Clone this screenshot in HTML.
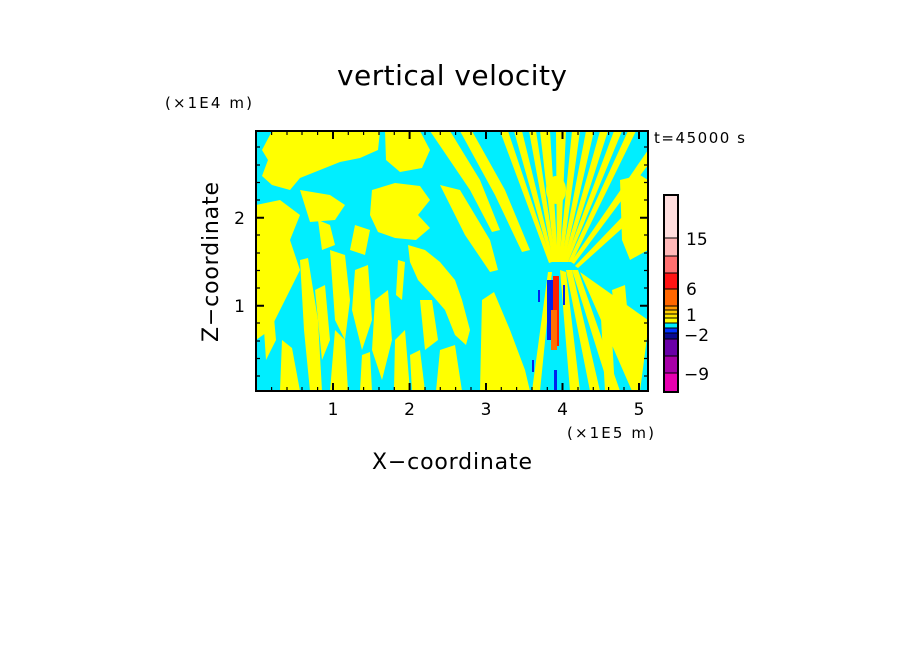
<!DOCTYPE html>
<html><head><meta charset="utf-8"><style>
body{margin:0;background:#fff;width:904px;height:654px;overflow:hidden;font-family:"DejaVu Sans","Liberation Sans",sans-serif}
</style></head><body>
<svg width="904" height="654" xmlns="http://www.w3.org/2000/svg" style="position:absolute;left:0;top:0">
<defs><clipPath id="c"><rect x="256" y="131" width="392" height="260"/></clipPath></defs>
<g clip-path="url(#c)">
<rect x="256" y="131" width="392" height="260" fill="#00eeff"/>
<g fill="#ffff00">
<path d="M272,131 L380,131 L378,150 L360,158 L340,162 L320,170 L300,178 L290,190 L272,185 L262,176 L268,160 L262,150 Z"/>
<path d="M256,205 L280,200 L300,215 L290,240 L300,270 L285,300 L270,330 L256,340 Z"/>
<path d="M300,190 L330,195 L345,205 L335,220 L310,222 Z"/>
<path d="M372,190 L395,183 L420,186 L430,200 L418,215 L430,228 L416,240 L395,238 L378,232 L370,215 Z"/>
<path d="M408,245 L425,250 L440,262 L455,280 L462,300 L470,330 L466,345 L455,335 L445,310 L432,295 L418,280 L410,262 Z"/>
<path d="M385,131 L420,131 L430,150 L422,168 L400,172 L386,160 Z"/>
<path d="M430,131 L450,131 L480,180 L500,230 L492,232 L470,190 Z"/>
<path d="M460,131 L472,131 L505,190 L530,250 L522,252 L495,195 Z"/>
<path d="M440,185 L460,190 L490,240 L498,270 L490,272 L465,235 Z"/>
<path d="M482,300 L494,292 L510,330 L525,370 L530,391 L480,391 Z"/>
<path d="M440,350 L455,345 L462,391 L436,391 Z"/>
<path d="M500,131 L508,131 L552,262 L549,263 Z"/>
<path d="M514,131 L522,131 L554,262 L551,262 Z"/>
<path d="M529,131 L536,131 L556,262 L553,262 Z"/>
<path d="M540,131 L550,131 L558,262 L555,262 Z"/>
<path d="M556,131 L566,131 L560,262 L557,262 Z"/>
<path d="M572,131 L580,131 L562,262 L559,262 Z"/>
<path d="M586,131 L594,131 L564,262 L561,262 Z"/>
<path d="M600,131 L608,131 L566,262 L563,262 Z"/>
<path d="M614,131 L622,131 L568,262 L565,262 Z"/>
<path d="M628,131 L636,131 L572,262 L568,262 Z"/>
<path d="M648,150 L648,165 L574,264 L571,262 Z"/>
<path d="M648,190 L648,205 L578,268 L575,266 Z"/>
<ellipse cx="556" cy="190" rx="10" ry="14"/>
<path d="M560,270 L566,272 L580,391 L570,391 Z"/>
<path d="M566,270 L572,270 L600,391 L590,391 Z"/>
<path d="M572,270 L578,270 L620,391 L610,391 Z"/>
<path d="M580,272 L648,320 L648,330 L640,391 L632,391 Z"/>
<path d="M548,272 L552,272 L540,391 L532,391 Z"/>
<path d="M300,260 L308,258 L318,320 L322,391 L310,391 L304,330 Z"/>
<path d="M330,250 L345,255 L350,300 L345,340 L335,320 Z"/>
<path d="M335,330 L345,340 L348,391 L330,391 Z"/>
<path d="M355,270 L368,265 L372,320 L362,350 L352,310 Z"/>
<path d="M375,300 L388,290 L392,340 L382,380 L372,350 Z"/>
<path d="M395,340 L405,330 L410,391 L394,391 Z"/>
<path d="M282,340 L292,348 L300,391 L280,391 Z"/>
<path d="M262,300 L272,295 L276,340 L266,360 Z"/>
<path d="M318,220 L330,225 L335,245 L322,250 Z"/>
<path d="M355,225 L370,230 L365,255 L350,250 Z"/>
<path d="M420,300 L432,300 L438,340 L425,350 Z"/>
<path d="M600,300 L610,300 L615,391 L605,391 Z"/>
<path d="M315,290 L325,285 L330,340 L322,360 Z"/>
<path d="M398,260 L405,262 L402,300 L396,295 Z"/>
<path d="M410,355 L420,350 L425,391 L412,391 Z"/>
<path d="M362,355 L370,352 L372,391 L360,391 Z"/>
<path d="M620,180 L640,175 L648,180 L648,250 L630,260 L622,240 Z"/>
<path d="M612,290 L625,285 L630,340 L620,360 Z"/>
</g>
<rect x="547" y="280" width="8" height="60" fill="#0022ee"/>
<rect x="553" y="276" width="6" height="70" fill="#ff2000"/>
<rect x="551" y="310" width="6" height="40" fill="#ff7000"/>
<rect x="538" y="290" width="2" height="12" fill="#0022ee"/>
<rect x="563" y="285" width="2" height="20" fill="#0022ee"/>
<rect x="532" y="360" width="2" height="12" fill="#0022ee"/>
<rect x="554" y="370" width="3" height="21" fill="#0022ee"/>
</g>
<rect x="256" y="131" width="392" height="260" fill="none" stroke="#000" stroke-width="2"/>
<g stroke="#000" stroke-width="1.2">
<path d="M333,391v-8M409.6,391v-8M486,391v-8M562.5,391v-8M639,391v-8M333,131v8M409.6,131v8M486,131v8M562.5,131v8M639,131v8" stroke-width="2"/>
<path d="M271.6,391v-4M287,391v-4M302,391v-4M317.6,391v-4M348.3,391v-4M363.6,391v-4M379,391v-4M394.3,391v-4M425,391v-4M440.3,391v-4M455.6,391v-4M471,391v-4M501.3,391v-4M516.6,391v-4M532,391v-4M547.3,391v-4M578,391v-4M593.3,391v-4M608.6,391v-4M624,391v-4"/>
<path d="M271.6,131v4M287,131v4M302,131v4M317.6,131v4M348.3,131v4M363.6,131v4M379,131v4M394.3,131v4M425,131v4M440.3,131v4M455.6,131v4M471,131v4M501.3,131v4M516.6,131v4M532,131v4M547.3,131v4M578,131v4M593.3,131v4M608.6,131v4M624,131v4"/>
<path d="M256,217.7h8M256,305.7h8M648,217.7h-8M648,305.7h-8" stroke-width="2"/>
<path d="M256,376h4M256,358.5h4M256,341h4M256,323h4M256,288h4M256,270.5h4M256,253h4M256,235h4M256,200h4M256,182.5h4M256,165h4M256,147h4"/>
<path d="M648,376h-4M648,358.5h-4M648,341h-4M648,323h-4M648,288h-4M648,270.5h-4M648,253h-4M648,235h-4M648,200h-4M648,182.5h-4M648,165h-4M648,147h-4"/>
</g>
<g stroke="none">
<rect x="664" y="195" width="14" height="43" fill="#ffdede"/>
<rect x="664" y="238" width="14" height="18" fill="#ffb8b8"/>
<rect x="664" y="256" width="14" height="17" fill="#ff7070"/>
<rect x="664" y="273" width="14" height="16" fill="#ff1414"/>
<rect x="664" y="289" width="14" height="17" fill="#ff6600"/>
<rect x="664" y="306" width="14" height="4" fill="#ff9900"/>
<rect x="664" y="310" width="14" height="4" fill="#ffcc00"/>
<rect x="664" y="314" width="14" height="4" fill="#ffe600"/>
<rect x="664" y="318" width="14" height="5" fill="#ffff00"/>
<rect x="664" y="323" width="14" height="5" fill="#00eeff"/>
<rect x="664" y="328" width="14" height="5" fill="#0033ff"/>
<rect x="664" y="333" width="14" height="6" fill="#0a0a90"/>
<rect x="664" y="339" width="14" height="17" fill="#6a00a8"/>
<rect x="664" y="356" width="14" height="17" fill="#a800a8"/>
<rect x="664" y="373" width="14" height="19" fill="#e800b0"/>
</g>
<g stroke="#000" stroke-width="1">
<path d="M664,238h14M664,256h14M664,273h14M664,289h14M664,306h14M664,310h14M664,314h14M664,318h14M664,323h14M664,328h14M664,333h14M664,339h14M664,356h14M664,373h14"/>
</g>
<rect x="664" y="195" width="14" height="197" fill="none" stroke="#000" stroke-width="2"/>
<g font-size="17" fill="#000">
<text x="686" y="245">15</text><text x="686" y="295">6</text><text x="686" y="321">1</text><text x="684" y="341">−2</text><text x="684" y="380">−9</text>
</g>
<g font-size="17" fill="#000" text-anchor="middle">
<text x="333" y="415">1</text><text x="409.6" y="415">2</text><text x="486" y="415">3</text><text x="562.5" y="415">4</text><text x="639" y="415">5</text>
</g>
<g font-size="17" fill="#000" text-anchor="end">
<text x="245" y="224">2</text><text x="245" y="312">1</text>
</g>
<text x="452" y="85" font-size="28" text-anchor="middle" fill="#000" textLength="230">vertical velocity</text>
<text x="165" y="108" font-size="15" fill="#000" textLength="87">(×1E4 m)</text>
<text x="567" y="438" font-size="15" fill="#000" textLength="87">(×1E5 m)</text>
<text x="654" y="143" font-size="15" fill="#000" textLength="91">t=45000 s</text>
<text x="452" y="469" font-size="22" text-anchor="middle" fill="#000" textLength="160">X−coordinate</text>
<text transform="translate(218,262) rotate(-90)" font-size="22" text-anchor="middle" fill="#000" textLength="160">Z−coordinate</text>
</svg>
</body></html>
